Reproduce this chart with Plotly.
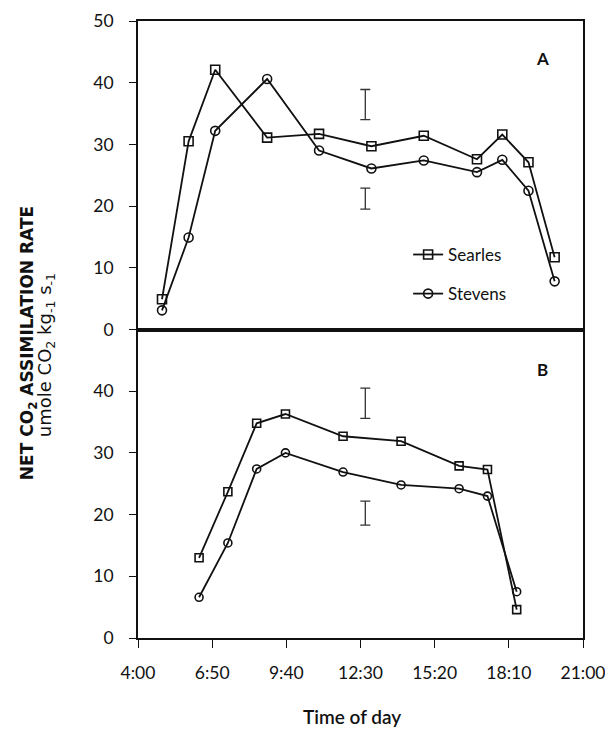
# Net CO2 assimilation rate, Searles vs Stevens (panels A and B)
import plotly.graph_objects as go
from plotly.subplots import make_subplots

# x axis ticks (every 170 min from 4:00)
tick_labels = ["4:00", "6:50", "9:40", "12:30", "15:20", "18:10", "21:00"]

# panel A
a_times = ["4:55", "5:56", "6:57", "8:56", "10:55", "12:55", "14:55", "16:57", "17:55", "18:55", "19:55"]
a_searles = [4.9, 30.5, 42.1, 31.1, 31.7, 29.7, 31.4, 27.6, 31.6, 27.1, 11.7]
a_stevens = [3.1, 14.9, 32.2, 40.6, 29.0, 26.1, 27.4, 25.5, 27.5, 22.5, 7.8]

# panel B
b_times = ["6:20", "7:26", "8:32", "9:38", "11:50", "14:03", "16:16", "17:21", "18:28"]
b_searles = [13.0, 23.7, 34.8, 36.3, 32.7, 31.9, 27.9, 27.3, 4.6]
b_stevens = [6.6, 15.4, 27.4, 30.0, 26.9, 24.8, 24.2, 23.0, 7.5]

# LSD bars (time, low, high)
bar_time = "12:41"
a_bar_low = [34.0, 19.5]
a_bar_high = [38.9, 22.9]
b_bar_low = [35.6, 18.3]
b_bar_high = [40.5, 22.2]


def hrs(t):
    h, m = t.split(":")
    return int(h) + int(m) / 60


fig = make_subplots(rows=2, cols=1, shared_xaxes=True, vertical_spacing=0)

for row, times, sea, ste, msize in [(1, a_times, a_searles, a_stevens, 9),
                                     (2, b_times, b_searles, b_stevens, 8)]:
    x = [hrs(t) for t in times]
    fig.add_trace(go.Scatter(x=x, y=sea, mode='lines+markers', name='Searles',
                             legendgroup='sea', showlegend=(row == 1),
                             line=dict(color='#111', width=1.8),
                             marker=dict(symbol='square-open', size=msize, color='#111',
                                         line=dict(width=1.6))),
                  row=row, col=1)
    fig.add_trace(go.Scatter(x=x, y=ste, mode='lines+markers', name='Stevens',
                             legendgroup='ste', showlegend=(row == 1),
                             line=dict(color='#111', width=1.8),
                             marker=dict(symbol='circle-open', size=msize, color='#111',
                                         line=dict(width=1.6))),
                  row=row, col=1)

for row, lows, highs in [(1, a_bar_low, a_bar_high), (2, b_bar_low, b_bar_high)]:
    mid = [(l + h) / 2 for l, h in zip(lows, highs)]
    half = [(h - l) / 2 for l, h in zip(lows, highs)]
    fig.add_trace(go.Scatter(x=[hrs(bar_time)] * len(mid), y=mid, mode='markers',
                             showlegend=False, hoverinfo='skip',
                             marker=dict(size=1, opacity=0),
                             error_y=dict(type='data', array=half, color='#333',
                                          thickness=1.3, width=5)),
                  row=row, col=1)

tickvals = [hrs(t) for t in tick_labels]

axis_common = dict(showline=True, linecolor='#111', linewidth=1.8, mirror=True,
                   showgrid=False, zeroline=False, automargin=False)

fig.update_xaxes(range=[4, 21], **axis_common)
fig.update_xaxes(showticklabels=False, ticks='', row=1, col=1)
fig.update_xaxes(tickvals=tickvals, ticktext=tick_labels, ticks='outside',
                 ticklen=8, tickcolor='#111', ticklabelstandoff=10,
                 ticklabeloverflow='allow', row=2, col=1)

fig.update_yaxes(range=[0, 50], ticks='outside', ticklen=7, tickcolor='#111',
                 ticklabelstandoff=12, ticklabeloverflow='allow', **axis_common)
fig.update_yaxes(tickvals=[0, 10, 20, 30, 40, 50], row=1, col=1)
fig.update_yaxes(tickvals=[0, 10, 20, 30, 40], row=2, col=1)

fig.add_annotation(text="<b>A</b>", x=0.909, y=0.94, xref='paper', yref='paper',
                   xanchor='center', yanchor='middle', showarrow=False, font=dict(size=17))
fig.add_annotation(text="<b>B</b>", x=0.909, y=0.435, xref='paper', yref='paper',
                   xanchor='center', yanchor='middle', showarrow=False, font=dict(size=17))

fig.add_annotation(text="<b>NET CO<sub>2</sub> ASSIMILATION RATE</b>", x=-0.247, y=0.478,
                   xref='paper', yref='paper', xanchor='center', yanchor='middle',
                   showarrow=False, textangle=-90,
                   font=dict(family='DejaVu Sans', size=17, color='#111'))
fig.add_annotation(text="umole CO<sub>2</sub> kg<sub>-1</sub> s<sub>-1</sub>", x=-0.205, y=0.458,
                   xref='paper', yref='paper', xanchor='center', yanchor='middle',
                   showarrow=False, textangle=-90,
                   font=dict(family='DejaVu Sans', size=18, color='#111'))
fig.add_annotation(text="Time of day", x=0.48, y=-0.128, xref='paper', yref='paper',
                   xanchor='center', yanchor='middle', showarrow=False,
                   font=dict(family='Lato', size=19, weight=600, color='#111'))

fig.update_layout(
    width=597, height=724,
    margin=dict(l=130, r=22, t=13, b=94, autoexpand=False),
    paper_bgcolor='white', plot_bgcolor='white',
    font=dict(family='Lato', size=17.5, color='#111'),
    legend=dict(x=0.607, y=0.65, xanchor='left', yanchor='top',
                font=dict(size=17), tracegroupgap=14, bgcolor='rgba(0,0,0,0)'),
)

fig.write_html("out.html")
